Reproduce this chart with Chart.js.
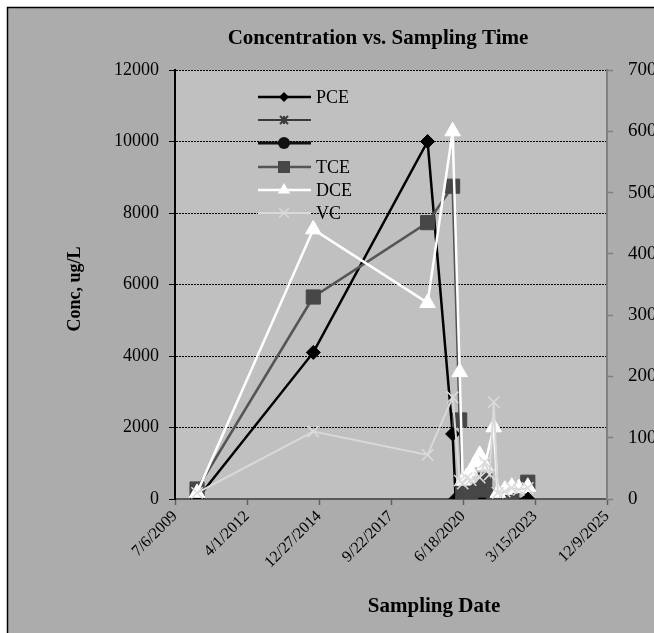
<!DOCTYPE html>
<html><head><meta charset="utf-8">
<script src="https://cdn.jsdelivr.net/npm/chart.js@4.4.1/dist/chart.umd.min.js"></script>
<style>html,body{margin:0;padding:0;overflow:hidden;background:#fff;width:654px;height:633px}canvas{display:block}</style>
</head><body>
<canvas id="c" width="720" height="633" style="width:720px;height:633px"></canvas>
<script>
const sampleDates = ['5/8/2010','10/9/2014','2/12/2019','1/26/2020','3/8/2020','5/3/2020','6/14/2020','8/8/2020','10/3/2020','12/12/2020','2/5/2021','4/16/2021','6/24/2021','8/19/2021','10/14/2021','1/19/2022','4/27/2022','8/2/2022','12/5/2022'];
const pce = [0,4100,10000,1820,0,0,0,0,0,0,0,0,0,0,0,null,null,null,0];
const series2 = [];
const series3 = [];
const tce = [280,5650,7730,8750,null,2210,150,180,120,null,250,530,null,100,null,null,30,null,470];
const dce = [10,440,320,600,null,207,30,36,45,60,72,55,null,117,10,15,20,18,20];
const vc  = [10,110,72,166,null,30,25,34,31,null,35,60,40,158,10,12,18,15,18];
const xTickLabels = ['7/6/2009','4/1/2012','12/27/2014','9/22/2017','6/18/2020','3/15/2023','12/9/2025'];
const leftTicks = [0,2000,4000,6000,8000,10000,12000];
const rightTicks = [0,100,200,300,400,500,600,700];

const FONT = '"Liberation Serif","Times New Roman",serif';
function toSerial(s){const [m,d,y]=s.split('/').map(Number);return Math.round((Date.UTC(y,m-1,d)-Date.UTC(1899,11,30))/864e5);}
function pts(vals){return sampleDates.map((d,i)=>({x:toSerial(d),y:vals[i]})).filter(p=>p.y!==null && p.y!==undefined);}
const xMin = toSerial(xTickLabels[0]), xMax = toSerial(xTickLabels[xTickLabels.length-1]);
const xStep = (xMax-xMin)/(xTickLabels.length-1);

const legendItems = [
  {text:'PCE', color:'#000000', width:2.5, style:'rectRot', r:5},
  {text:'', color:'#3a3a3a', width:2, style:'star', r:4},
  {text:'', color:'#111111', width:3, style:'circle', r:6},
  {text:'TCE', color:'#555555', width:2.5, style:'rect', r:6, fill:'#474747'},
  {text:'DCE', color:'#ffffff', width:2.5, style:'triangle', r:7},
  {text:'VC', color:'#d9d9d9', width:2, style:'crossRot', r:5}
];

function marker(ctx, style, x, y, r, fill, stroke){
  ctx.save(); ctx.fillStyle=fill; ctx.strokeStyle=stroke; ctx.lineWidth=1.5; ctx.beginPath();
  if(style==='rectRot'){ctx.moveTo(x,y-r);ctx.lineTo(x+r,y);ctx.lineTo(x,y+r);ctx.lineTo(x-r,y);ctx.closePath();ctx.fill();}
  else if(style==='rect'){ctx.rect(x-r,y-r,2*r,2*r);ctx.fill();}
  else if(style==='triangle'){ctx.moveTo(x,y-r);ctx.lineTo(x+r*0.87,y+r*0.5);ctx.lineTo(x-r*0.87,y+r*0.5);ctx.closePath();ctx.fill();}
  else if(style==='circle'){ctx.arc(x,y,r,0,Math.PI*2);ctx.fill();}
  else if(style==='crossRot'){ctx.moveTo(x-r,y-r);ctx.lineTo(x+r,y+r);ctx.moveTo(x+r,y-r);ctx.lineTo(x-r,y+r);ctx.stroke();}
  else if(style==='star'){ctx.lineWidth=2;ctx.moveTo(x-r,y-r);ctx.lineTo(x+r,y+r);ctx.moveTo(x+r,y-r);ctx.lineTo(x-r,y+r);ctx.moveTo(x,y-r);ctx.lineTo(x,y+r);ctx.moveTo(x-r,y);ctx.lineTo(x+r,y);ctx.stroke();}
  ctx.restore();
}

const decor = {
  id:'decor',
  beforeDraw(chart){
    const ctx=chart.ctx, a=chart.chartArea;
    ctx.save();
    ctx.fillStyle='#ffffff'; ctx.fillRect(0,0,chart.width,chart.height);
    ctx.fillStyle='#acacac'; ctx.fillRect(7,7,chart.width,chart.height);
    ctx.strokeStyle='#000'; ctx.lineWidth=1.5; ctx.beginPath();
    ctx.moveTo(7.5,chart.height+5); ctx.lineTo(7.5,7.5); ctx.lineTo(chart.width+5,7.5); ctx.stroke();
    ctx.fillStyle='#c0c0c0'; ctx.fillRect(a.left,a.top,a.right-a.left,a.bottom-a.top);
    ctx.restore();
  },
  afterDraw(chart){
    const ctx=chart.ctx;
    ctx.save();
    ctx.fillStyle='#000'; ctx.textAlign='center'; ctx.textBaseline='middle';
    ctx.font='bold 21px '+FONT; ctx.fillText('Concentration vs. Sampling Time',378,39);
    ctx.font='bold 21px '+FONT; ctx.fillText('Sampling Date',434,607);
    ctx.save(); ctx.translate(75,289); ctx.rotate(-Math.PI/2); ctx.font='bold 18px '+FONT; ctx.fillText('Conc, ug/L',0,0); ctx.restore();
    const ys=[97,120,143,167,190,213];
    legendItems.forEach((it,i)=>{
      const y=ys[i];
      ctx.strokeStyle=it.color; ctx.lineWidth=it.width; ctx.beginPath(); ctx.moveTo(258,y); ctx.lineTo(311,y); ctx.stroke();
      marker(ctx,it.style,284,y,it.r,it.fill||it.color,it.fill||it.color);
      if(it.text){ctx.fillStyle='#000'; ctx.textAlign='left'; ctx.font='18px '+FONT; ctx.fillText(it.text,316,y+1);}
    });
    ctx.restore();
  }
};

new Chart(document.getElementById('c'),{
  type:'line',
  data:{datasets:[
    {label:'PCE',data:pts(pce),yAxisID:'y',borderColor:'#000',borderWidth:2.5,pointStyle:'rectRot',pointRadius:7,pointBackgroundColor:'#000',pointBorderColor:'#000',pointBorderWidth:1,order:5},
    {label:'',data:series2,yAxisID:'y',borderColor:'#3a3a3a',borderWidth:2,pointStyle:'star',pointRadius:4,order:4},
    {label:'',data:series3,yAxisID:'y',borderColor:'#111',borderWidth:3,pointStyle:'circle',pointRadius:6,order:3},
    {label:'TCE',data:pts(tce),yAxisID:'y',borderColor:'#555555',borderWidth:2.5,pointStyle:'rect',pointRadius:10,pointBackgroundColor:'#474747',pointBorderColor:'#474747',pointBorderWidth:1,order:2},
    {label:'DCE',data:pts(dce),yAxisID:'y2',borderColor:'#ffffff',borderWidth:2.5,pointStyle:'triangle',pointRadius:9,pointBackgroundColor:'#ffffff',pointBorderColor:'#ffffff',pointBorderWidth:1,order:1},
    {label:'VC',data:pts(vc),yAxisID:'y2',borderColor:'#d9d9d9',borderWidth:2,pointStyle:'crossRot',pointRadius:8,pointBorderColor:'#dcdcdc',pointBorderWidth:1.5,order:0}
  ]},
  options:{
    responsive:false, animation:false, devicePixelRatio:1,
    layout:{padding:{left:0,right:0,top:70,bottom:0}},
    plugins:{legend:{display:false},tooltip:{enabled:false},title:{display:false}},
    elements:{line:{tension:0,fill:false}},
    scales:{
      x:{type:'linear',position:'bottom',min:xMin,max:xMax,
        afterBuildTicks(s){s.ticks=xTickLabels.map((t,i)=>({value:xMin+i*xStep}));},
        afterFit(s){s.height=134;},
        ticks:{autoSkip:false,minRotation:45,maxRotation:45,color:'#000',font:{family:FONT,size:16},padding:2,
          callback:(v)=>xTickLabels[Math.round((v-xMin)/xStep)]},
        grid:{drawOnChartArea:false,drawTicks:true,tickLength:6,tickColor:'#606060',tickWidth:1.5},
        border:{display:true,color:'#5a5a5a',width:2}},
      y:{position:'left',min:0,max:12000,
        afterBuildTicks(s){s.ticks=leftTicks.map(v=>({value:v}));},
        afterFit(s){s.width=175;},
        ticks:{color:'#000',font:{family:FONT,size:18},padding:10,callback:(v)=>String(v)},
        grid:{drawOnChartArea:true,color:(c)=>c.tick&&c.tick.value===0?'rgba(0,0,0,0)':'#000',lineWidth:1,tickLength:6,tickColor:'#000',tickWidth:1},
        border:{display:true,color:'#000',width:2,dash:[2,1]}},
      y2:{position:'right',min:0,max:700,
        afterBuildTicks(s){s.ticks=rightTicks.map(v=>({value:v}));},
        afterFit(s){s.width=113;},
        ticks:{color:'#000',font:{family:FONT,size:19},padding:15,callback:(v)=>String(v)},
        grid:{drawOnChartArea:false,tickLength:6,tickColor:'#808080',tickWidth:1.5},
        border:{display:true,color:'#808080',width:2}}
    }
  },
  plugins:[decor]
});
</script>
</body></html>
